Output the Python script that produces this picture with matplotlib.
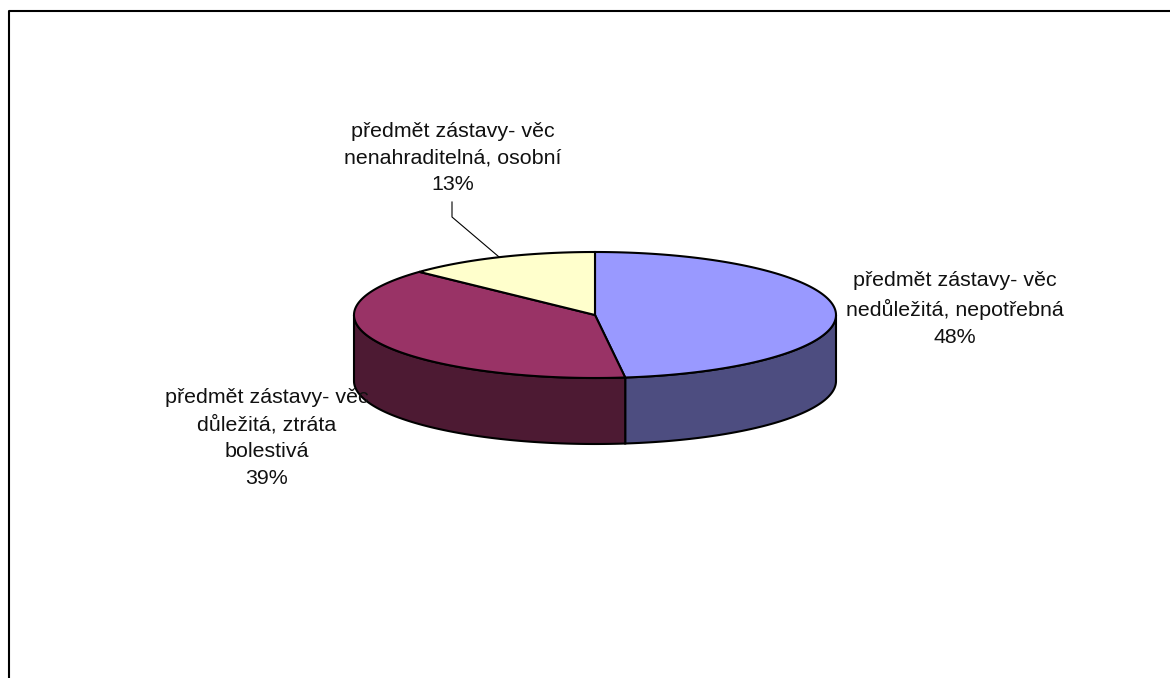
import numpy as np
import matplotlib
matplotlib.use("Agg")
import matplotlib.pyplot as plt
from matplotlib.patches import Polygon

labels = ["předmět zástavy- věc\nnedůležitá, nepotřebná\n48%",
          "předmět zástavy- věc\ndůležitá, ztráta\nbolestivá\n39%",
          "předmět zástavy- věc\nnenahraditelná, osobní\n13%"]
shares = [48, 39, 13]
top_colors = ["#9999ff", "#993366", "#ffffcc"]
side_colors = ["#4d4d80", "#4d1a33", "#808066"]
label_pos = [(955, 309), (267, 438), (453, 158)]

cx, cy = 595, 315
rx, ry = 241, 63
depth = 66
lw = 1.5

plt.rcParams["font.family"] = ["Liberation Sans", "DejaVu Sans"]

fig = plt.figure(figsize=(11.7, 6.78), dpi=100)
ax = fig.add_axes([0, 0, 1, 1])
ax.set_xlim(0, 1170)
ax.set_ylim(678, 0)
ax.axis("off")


def rim(a0, a1, n=200):
    # angles run clockwise from twelve o'clock, in percent of the pie
    t = np.radians(np.linspace(a0, a1, n) * 3.6)
    return cx + rx * np.sin(t), cy - ry * np.cos(t)


# frame runs off the bottom and right of the figure
ax.plot([9, 9, 1170], [678, 11, 11], color="black", lw=1.5, zorder=1)

edges = np.cumsum([0] + shares)

# side walls, only the front half of the rim is visible
for i in range(len(shares)):
    a0 = max(edges[i], 25)
    a1 = min(edges[i + 1], 75)
    if a1 <= a0:
        continue
    x, y = rim(a0, a1)
    pts = np.r_[np.c_[x, y], np.c_[x[::-1], y[::-1] + depth]]
    ax.add_patch(Polygon(pts, closed=True, fc=side_colors[i], ec="black", lw=lw, zorder=2))

# top faces
for i in range(len(shares)):
    x, y = rim(edges[i], edges[i + 1])
    pts = np.r_[[[cx, cy]], np.c_[x, y]]
    ax.add_patch(Polygon(pts, closed=True, fc=top_colors[i], ec="black", lw=lw, zorder=3))

# leader for the small slice
lx, ly = rim(edges[2] + shares[2] * 0.5, edges[2] + shares[2] * 0.5, 1)
ax.plot([452, 452, lx[0]], [202, 217, ly[0]], color="black", lw=0.8, zorder=4)

for lab, (x, y) in zip(labels, label_pos):
    ax.text(x, y, lab, ha="center", va="center", fontsize=15.4, color="#111111",
            linespacing=1.5, zorder=5)

fig.savefig("out.png", dpi=100)
